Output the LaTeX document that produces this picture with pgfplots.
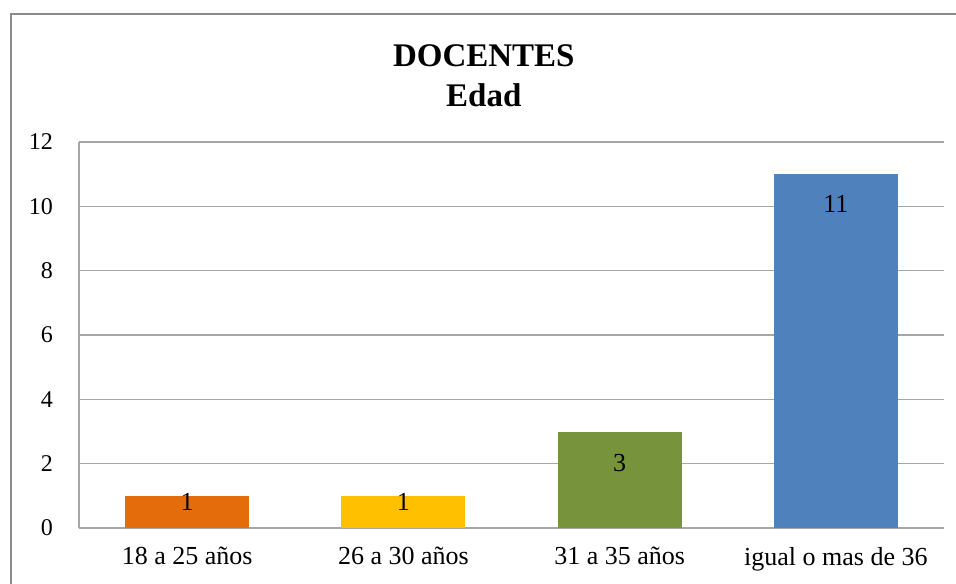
\documentclass[border=0pt]{standalone}
\usepackage{fontspec}
\setmainfont{Liberation Serif}
\usepackage{pgfplots}
\pgfplotsset{compat=1.18}
\definecolor{cOr}{HTML}{E46C0A}
\definecolor{cGo}{HTML}{FFC000}
\definecolor{cGr}{HTML}{77933C}
\definecolor{cBl}{HTML}{4F81BD}
\definecolor{gridc}{HTML}{A6A6A6}
\definecolor{framec}{HTML}{8C8C8C}
\begin{document}
\begin{tikzpicture}
\useasboundingbox (0,0) rectangle (478pt,291.5pt);
\draw[color=framec, line width=1pt] (5.5pt,-20pt) -- (5.5pt,284.5pt) -- (500pt,284.5pt);
\begin{axis}[
  at={(39.5pt,27.5pt)}, anchor=south west,
  scale only axis, width=432.5pt, height=193pt,
  xmin=-0.5, xmax=3.5, ymin=0, ymax=12,
  ytick={0,2,4,6,8,10,12},
  xtick={0,1,2,3},
  xticklabels={18 a 25 años, 26 a 30 años, 31 a 35 años, igual o mas de 36},
  axis x line*=bottom, axis y line*=left,
  axis line style={gridc, line width=0.8pt, -},
  ymajorgrids, grid style={gridc, line width=0.8pt},
  major tick length=0pt,
  /pgf/number format/assume math mode=true,
  yticklabel style={font=\fontsize{12}{14}\selectfont, xshift=-9.5pt},
  xticklabel style={font=\fontsize{13}{15}\selectfont, yshift=-6pt},
  ybar, bar width=62pt, bar shift=0pt,
  title={DOCENTES\\Edad},
  title style={align=center, font=\bfseries\fontsize{16.5}{20}\selectfont,
    at={(axis description cs:0.468,1.14)}, anchor=center},
  nodes near coords,
  nodes near coords style={font=\fontsize{13}{15}\selectfont, text=black, anchor=center},
]
\addplot[fill=cOr, draw=none, nodes near coords style={yshift=-3pt}] coordinates {(0,1)};
\addplot[fill=cGo, draw=none, nodes near coords style={yshift=-3pt}] coordinates {(1,1)};
\addplot[fill=cGr, draw=none, nodes near coords style={yshift=-16pt}] coordinates {(2,3)};
\addplot[fill=cBl, draw=none, nodes near coords style={yshift=-15pt}] coordinates {(3,11)};
\end{axis}
\end{tikzpicture}
\end{document}
